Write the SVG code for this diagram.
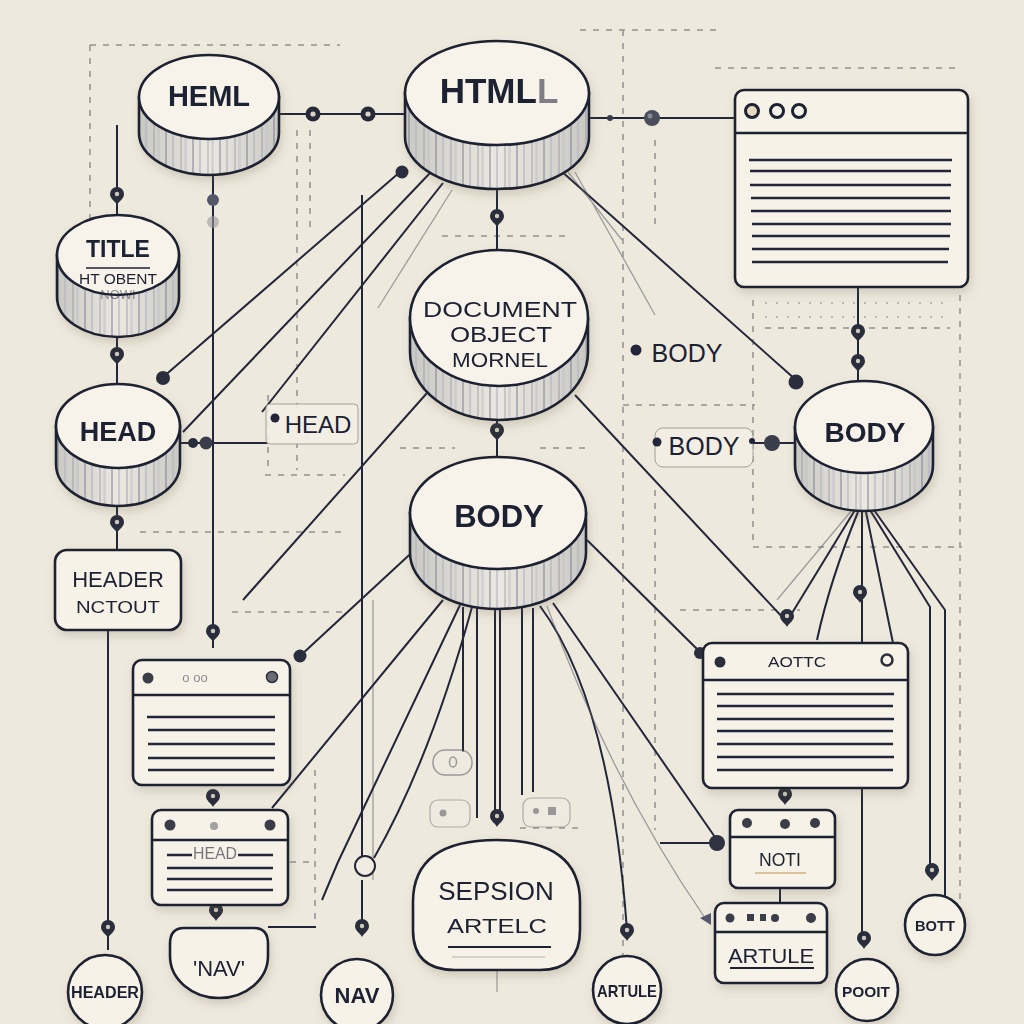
<svg xmlns="http://www.w3.org/2000/svg" xmlns:xlink="http://www.w3.org/1999/xlink" width="1024" height="1024" viewBox="0 0 1024 1024">
<defs>
<style>
.t{font-family:"Liberation Sans",Arial,sans-serif;fill:#1c2033;text-anchor:middle}
.b{font-weight:bold}
.ln{fill:none;stroke:#23263a;stroke-width:2}
.fl{fill:none;stroke:#5a5d68;stroke-width:1.3;opacity:.55}
.dash{fill:none;stroke:#55575f;stroke-width:1.5;stroke-dasharray:6 7;opacity:.6}
.dot{fill:none;stroke:#55575f;stroke-width:1.5;stroke-dasharray:2 9;opacity:.45}
.side{fill:url(#sideg);stroke:none}
.str{fill:url(#stripes);stroke:#1d2131;stroke-width:2.6}
.top{fill:#f7f3ea;stroke:#1d2131;stroke-width:2.6}
.box{fill:#f6f2e8;stroke:#1d2131;stroke-width:2.6}
.bar{stroke:#1d2131;stroke-width:2.6}
.row{stroke:#23263a;stroke-width:2.4}
.lbl{fill:#f3efe5;stroke:#9a9890;stroke-width:1;opacity:.9}
.sh{filter:url(#shadow)}
</style>
<linearGradient id="sideg" x1="0" y1="0" x2="1" y2="0">
<stop offset="0" stop-color="#cac8c3"/><stop offset=".5" stop-color="#ebe8e1"/><stop offset="1" stop-color="#cac8c3"/>
</linearGradient>
<pattern id="stripes" width="27" height="20" patternUnits="userSpaceOnUse">
<line x1="4" y1="0" x2="4" y2="20" stroke="#6f7588" stroke-width="1.2" opacity=".75"/>
<line x1="11" y1="0" x2="11" y2="20" stroke="#b3b5bf" stroke-width="2.2" opacity=".6"/>
<line x1="19" y1="0" x2="19" y2="20" stroke="#858a9c" stroke-width="1" opacity=".7"/>
<line x1="23.5" y1="0" x2="23.5" y2="20" stroke="#c2c2c8" stroke-width="2.5" opacity=".6"/>
</pattern>
<filter id="shadow" x="-20%" y="-20%" width="140%" height="150%">
<feDropShadow dx="2" dy="5" stdDeviation="5" flood-color="#6b6150" flood-opacity=".22"/>
</filter>
<g id="pin"><path d="M0,9 C-2,5 -7,3 -7,-2 A7,7 0 1 1 7,-2 C7,3 2,5 0,9 Z" fill="#2a2d3b"/><circle cy="-2" r="2.2" fill="#cfcabd"/></g>
<g id="ring"><circle r="7.5" fill="#262938"/><circle r="2.6" fill="#d9d4c7"/></g>
</defs>

<rect width="1024" height="1024" fill="#eee9dd"/>

<g id="guides">
<path class="dash" d="M90,45 H340 M90,45 V310 M297,130 V470 M310,130 V230 M268,395 V470 M265,475 H345 M140,532 H345 M232,612 H345 M315,770 V925 M290,862 H315"/>
<path class="dash" d="M400,448 H455 M540,448 H590 M442,236 H565 M580,30 H720 M623,30 V1000 M715,68 H960 M655,140 V230 M655,490 V830 M623,405 H755 M753,300 V547 M680,610 H800 M753,547 H962 M960,295 V900 M765,328 H950 M520,828 H585"/>
<path class="dot" d="M765,303 H950 M765,317 H950"/>
</g>

<g id="connectors">
<path class="ln" d="M280,114 H405"/>
<path class="ln" d="M590,118 H735"/>
<path class="ln" d="M497,190 V250"/>
<path class="ln" d="M497,420 V457"/>
<path class="ln" d="M213,175 V648"/>
<path class="ln" d="M117,125 V215"/>
<path class="ln" d="M117,337 V384"/>
<path class="ln" d="M117,506 V550"/>
<path class="ln" d="M108,630 V950"/>
<path class="ln" d="M400,172 L162,378"/>
<path class="ln" d="M430,173 L183,432"/>
<path class="ln" d="M443,183 L262,412"/>
<path class="fl" d="M452,190 L378,308"/>
<path class="ln" d="M180,443 H268"/>
<path class="ln" d="M362,195 V860"/>
<path class="fl" d="M373,600 V880"/>
<path class="ln" d="M427,393 L243,600"/>
<path class="ln" d="M420,545 L300,656"/>
<path class="ln" d="M443,600 L272,808"/>
<path class="ln" d="M460,605 L338,862 L322,900"/>
<path class="ln" d="M472,607 Q430,760 374,858"/>
<path class="ln" d="M463,607 V752 M477,608 V818 M495,608 V815 M500,608 V815 M522,608 V795 M533,608 V792"/>
<path class="ln" d="M362,880 V925"/>
<path class="ln" d="M540,606 Q610,700 627,930"/>
<path class="ln" d="M553,603 L717,840"/>
<path class="fl" d="M547,606 Q610,780 705,918"/>
<path class="ln" d="M587,540 L700,652"/>
<path class="ln" d="M575,395 L785,620"/>
<path class="ln" d="M560,170 L796,380"/>
<path class="fl" d="M568,172 L622,240 M575,172 L655,315"/>
<path class="ln" d="M858,287 V381"/>
<path class="ln" d="M752,443 H795"/>
<path class="ln" d="M660,843 H717"/>
<path class="fl" d="M852,510 L777,600"/>
<path class="ln" d="M855,510 L789,618"/>
<path class="ln" d="M858,512 Q830,580 817,640"/>
<path class="ln" d="M862,512 V940"/>
<path class="ln" d="M866,512 L893,643"/>
<path class="ln" d="M870,510 L930,607 V868"/>
<path class="ln" d="M874,510 L945,610 V900"/>
<path class="ln" d="M780,888 V905"/>
<path class="ln" d="M316,927 H268"/>
<path class="fl" d="M497,970 V992"/>
<circle cx="365" cy="866" r="10" fill="#f1ece1" stroke="#23263a" stroke-width="2"/>
<use href="#ring" x="313" y="114"/>
<use href="#ring" x="368" y="114"/>
<circle cx="610" cy="118" r="3" fill="#3a3d4a"/>
<circle cx="652" cy="118" r="8" fill="#4a4d5a"/><circle cx="650" cy="116" r="2.5" fill="#8a8c95"/>
<use href="#pin" x="497" y="218"/>
<use href="#pin" x="497" y="432"/>
<circle cx="213" cy="200" r="6" fill="#55586a"/>
<circle cx="213" cy="222" r="6" fill="#9a9aa0" opacity=".6"/>
<use href="#pin" x="213" y="633"/>
<use href="#pin" x="117" y="196"/>
<use href="#pin" x="117" y="356"/>
<use href="#pin" x="117" y="524"/>
<use href="#pin" x="108" y="929"/>
<circle cx="402" cy="172" r="6.5" fill="#2a2d3b"/>
<circle cx="163" cy="378" r="7" fill="#2a2d3b"/>
<circle cx="193" cy="443" r="5" fill="#2a2d3b"/>
<circle cx="206" cy="443" r="6.5" fill="#3a3d4a"/>
<use href="#pin" x="213" y="798"/>
<use href="#pin" x="216" y="912"/>
<use href="#pin" x="362" y="928"/>
<use href="#pin" x="497" y="818"/>
<use href="#pin" x="627" y="932"/>
<circle cx="300" cy="656" r="6.5" fill="#2a2d3b"/>
<use href="#pin" x="858" y="333"/>
<use href="#pin" x="858" y="363"/>
<circle cx="796" cy="382" r="7.5" fill="#2a2d3b"/>
<circle cx="772" cy="443" r="8" fill="#3a3d4a"/>
<use href="#pin" x="787" y="618"/>
<use href="#pin" x="860" y="594"/>
<circle cx="700" cy="653" r="6" fill="#2a2d3b"/>
<use href="#pin" x="785" y="796"/>
<circle cx="717" cy="843" r="8" fill="#2f3240"/>
<use href="#pin" x="864" y="940"/>
<use href="#pin" x="932" y="872"/>
<path d="M700,918 L711,913 L711,925 Z" fill="#55586a"/>
</g>

<g id="faint-pills" opacity=".55">
<rect x="433" y="750" width="39" height="25" rx="12" fill="#f1ece1" stroke="#55575f" stroke-width="1.5"/>
<ellipse cx="453" cy="762" rx="3.5" ry="5" fill="none" stroke="#55575f" stroke-width="1.5"/>
<rect x="430" y="800" width="40" height="27" rx="8" fill="#f1ece1" stroke="#77787f" stroke-width="1.2"/>
<circle cx="443" cy="813" r="3.5" fill="#55575f"/>
<rect x="523" y="798" width="47" height="29" rx="8" fill="#f1ece1" stroke="#77787f" stroke-width="1.2"/>
<circle cx="536" cy="811" r="3" fill="#55575f"/><rect x="548" y="807" width="8" height="8" fill="#55575f"/>
</g>

<g id="n-heml" class="sh">
<path class="side" d="M139,97 V133 A70,42 0 0 0 279,133 V97 Z"/>
<path class="str" d="M139,97 V133 A70,42 0 0 0 279,133 V97 Z"/>
<ellipse class="top" cx="209" cy="97" rx="70" ry="42"/>
<text class="t b" x="209" y="106" font-size="29">HEML</text>
</g>

<g id="n-htmll" class="sh">
<path class="side" d="M405,93 V137 A92,52 0 0 0 589,137 V93 Z"/>
<path class="str" d="M405,93 V137 A92,52 0 0 0 589,137 V93 Z"/>
<ellipse class="top" cx="497" cy="93" rx="92" ry="52"/>
<text class="t b" x="499" y="103" font-size="35">HTML<tspan opacity=".55">L</tspan></text>
</g>

<g id="n-title" class="sh">
<path class="side" d="M57,255 V297 A61,40 0 0 0 179,297 V255 Z"/>
<path class="str" d="M57,255 V297 A61,40 0 0 0 179,297 V255 Z"/>
<ellipse class="top" cx="118" cy="255" rx="61" ry="40"/>
<text class="t b" x="118" y="257" font-size="23">TITLE</text>
<line x1="86" y1="268" x2="150" y2="268" stroke="#1c2033" stroke-width="1.6"/>
<text class="t" x="118" y="284" font-size="15" textLength="78" lengthAdjust="spacingAndGlyphs">HT OBENT</text>
<text class="t" x="118" y="299" font-size="13" opacity=".5">NOWI</text>
</g>

<g id="n-head" class="sh">
<path class="side" d="M56,426 V464 A62,42 0 0 0 180,464 V426 Z"/>
<path class="str" d="M56,426 V464 A62,42 0 0 0 180,464 V426 Z"/>
<ellipse class="top" cx="118" cy="426" rx="62" ry="42"/>
<text class="t b" x="118" y="441" font-size="27">HEAD</text>
</g>

<g id="n-header" class="sh">
<rect class="box" x="55" y="550" width="126" height="80" rx="12"/>
<text class="t" x="118" y="587" font-size="22">HEADER</text>
<text class="t" x="118" y="613" font-size="16" textLength="84" lengthAdjust="spacingAndGlyphs" font-family="Liberation Serif">NCTOUT</text>
</g>

<g id="n-dom" class="sh">
<path class="side" d="M410,318 V352 A89,68 0 0 0 588,352 V318 Z"/>
<path class="str" d="M410,318 V352 A89,68 0 0 0 588,352 V318 Z"/>
<ellipse class="top" cx="499" cy="318" rx="89" ry="68"/>
<text class="t" x="500" y="317" font-size="22" textLength="154" lengthAdjust="spacingAndGlyphs">DOCUMENT</text>
<text class="t" x="501" y="342" font-size="22" textLength="102" lengthAdjust="spacingAndGlyphs">OBJECT</text>
<text class="t" x="500" y="367" font-size="20" textLength="96" lengthAdjust="spacingAndGlyphs">MORNEL</text>
</g>

<g id="n-body-center" class="sh">
<path class="side" d="M410,513 V553 A88,56 0 0 0 586,553 V513 Z"/>
<path class="str" d="M410,513 V553 A88,56 0 0 0 586,553 V513 Z"/>
<ellipse class="top" cx="498" cy="513" rx="88" ry="56"/>
<text class="t b" x="499" y="527" font-size="31">BODY</text>
</g>

<g id="n-body-right" class="sh">
<path class="side" d="M795,427 V465 A69,46 0 0 0 933,465 V427 Z"/>
<path class="str" d="M795,427 V465 A69,46 0 0 0 933,465 V427 Z"/>
<ellipse class="top" cx="864" cy="427" rx="69" ry="46"/>
<text class="t b" x="865" y="442" font-size="28">BODY</text>
</g>

<g id="lbl-head">
<rect class="lbl" x="266" y="404" width="92" height="40" rx="4" opacity=".5"/>
<circle cx="275" cy="418" r="4.5" fill="#23263a"/>
<text class="t" x="318" y="433" font-size="24">HEAD</text>
</g>

<g id="lbl-body-1">
<circle cx="636" cy="350" r="5.5" fill="#23263a"/>
<text class="t" x="687" y="362" font-size="25">BODY</text>
</g>

<g id="lbl-body-2">
<rect class="lbl" x="655" y="428" width="98" height="39" rx="8"/>
<circle cx="657" cy="442" r="4.5" fill="#23263a"/>
<text class="t" x="704" y="455" font-size="25">BODY</text>
<circle cx="752" cy="441" r="3" fill="#23263a"/>
</g>

<g id="n-window-top" class="sh">
<rect class="box" x="735" y="90" width="233" height="197" rx="9"/>
<line class="bar" x1="735" y1="133" x2="968" y2="133"/>
<circle cx="752" cy="111" r="6.5" fill="#e7d9c1" stroke="#1d2131" stroke-width="3"/>
<circle cx="777" cy="111" r="6.5" fill="#f6f2e8" stroke="#1d2131" stroke-width="3"/>
<circle cx="799" cy="111" r="6.5" fill="#f6f2e8" stroke="#1d2131" stroke-width="3"/>
<path class="row" d="M749,160 H952 M750,171 H951 M750,185 H951 M751,198 H950 M751,211 H951 M752,224 H951 M752,236 H950 M752,249 H949 M752,262 H948"/>
</g>

<g id="n-window-1" class="sh">
<rect class="box" x="133" y="660" width="157" height="125" rx="9"/>
<line class="bar" x1="133" y1="695" x2="290" y2="695"/>
<circle cx="148" cy="678" r="5.5" fill="#3a3d4a"/>
<circle cx="272" cy="677" r="5.5" fill="#6a6c75" stroke="#2a2d3b" stroke-width="1.5"/>
<text class="t" x="195" y="682" font-size="13" opacity=".5">o oo</text>
<path class="row" d="M147,717 H275 M148,730 H275 M148,744 H275 M148,758 H275 M148,770 H274"/>
</g>

<g id="n-window-2" class="sh">
<rect class="box" x="152" y="810" width="136" height="95" rx="9"/>
<line class="bar" x1="152" y1="840" x2="288" y2="840"/>
<circle cx="170" cy="825" r="5.5" fill="#3a3d4a"/>
<circle cx="270" cy="825" r="5.5" fill="#3a3d4a"/>
<circle cx="214" cy="826" r="4" fill="#6a6c75" opacity=".6"/>
<text class="t" x="215" y="859" font-size="17" opacity=".6" textLength="44" lengthAdjust="spacingAndGlyphs">HEAD</text>
<path class="row" d="M167,855 H192 M238,855 H273 M167,868 H273 M167,879 H272 M167,890 H273"/>
</g>

<g id="n-nav-q" class="sh">
<path class="box" d="M184,928 H254 Q268,928 268,944 V956 A49,42 0 0 1 170,956 V944 Q170,928 184,928 Z"/>
<text class="t" x="219" y="976" font-size="22">'NAV'</text>
</g>

<g id="n-sepsion" class="sh">
<path class="box" d="M413,902 Q413,840 497,840 Q580,840 580,902 V930 Q580,970 540,970 H455 Q413,970 413,930 Z"/>
<text class="t" x="496" y="900" font-size="26">SEPSION</text>
<text class="t" x="497" y="933" font-size="21" textLength="100" lengthAdjust="spacingAndGlyphs">ARTELC</text>
<line x1="448" y1="947" x2="551" y2="947" stroke="#1c2033" stroke-width="2"/>
<line x1="452" y1="957" x2="545" y2="957" stroke="#8a8a90" stroke-width="1.2" opacity=".6"/>
</g>

<g id="n-aottc" class="sh">
<rect class="box" x="703" y="643" width="205" height="145" rx="9"/>
<line class="bar" x1="703" y1="680" x2="908" y2="680"/>
<circle cx="720" cy="662" r="5.5" fill="#2a2d3b"/>
<circle cx="887" cy="660" r="5.5" fill="#f6f2e8" stroke="#2a2d3b" stroke-width="2.5"/>
<text class="t" x="797" y="667" font-size="14" textLength="58" lengthAdjust="spacingAndGlyphs">AOTTC</text>
<path class="row" d="M717,694 H894 M717,706 H893 M717,719 H894 M717,731 H893 M717,744 H893 M717,757 H894 M717,770 H893"/>
</g>

<g id="n-noti" class="sh">
<rect class="box" x="730" y="810" width="105" height="78" rx="8"/>
<line class="bar" x1="730" y1="837" x2="835" y2="837"/>
<circle cx="747" cy="823" r="5" fill="#3a3d4a"/>
<circle cx="785" cy="824" r="5" fill="#3a3d4a"/>
<circle cx="815" cy="823" r="5" fill="#3a3d4a"/>
<text class="t" x="780" y="866" font-size="18" textLength="42" lengthAdjust="spacingAndGlyphs">NOTI</text>
<line x1="755" y1="873" x2="806" y2="873" stroke="#c8a06a" stroke-width="1.5" opacity=".8"/>
</g>

<g id="n-artule-win" class="sh">
<rect class="box" x="715" y="903" width="112" height="80" rx="9"/>
<line class="bar" x1="715" y1="932" x2="827" y2="932"/>
<circle cx="730" cy="918" r="4.5" fill="#3a3d4a"/>
<rect x="747" y="914" width="7" height="7" fill="#3a3d4a"/>
<rect x="760" y="914" width="6" height="7" fill="#3a3d4a"/>
<circle cx="775" cy="918" r="4" fill="#3a3d4a"/>
<circle cx="811" cy="918" r="5" fill="#3a3d4a"/>
<text class="t" x="771" y="963" font-size="21" textLength="86" lengthAdjust="spacingAndGlyphs">ARTULE</text>
<line x1="730" y1="968" x2="814" y2="968" stroke="#1c2033" stroke-width="2"/>
</g>

<g id="n-header-c" class="sh">
<circle class="box" cx="105" cy="992" r="37"/>
<text class="t b" x="105" y="998" font-size="16" textLength="68" lengthAdjust="spacingAndGlyphs">HEADER</text>
</g>

<g id="n-nav" class="sh">
<circle class="box" cx="357" cy="995" r="36"/>
<text class="t b" x="357" y="1003" font-size="22">NAV</text>
</g>

<g id="n-artule" class="sh">
<circle class="box" cx="627" cy="990" r="34"/>
<text class="t b" x="627" y="997" font-size="17" textLength="60" lengthAdjust="spacingAndGlyphs">ARTULE</text>
</g>

<g id="n-pooit" class="sh">
<circle class="box" cx="867" cy="990" r="31"/>
<text class="t b" x="866" y="997" font-size="15" textLength="48" lengthAdjust="spacingAndGlyphs">POOIT</text>
</g>

<g id="n-bott" class="sh">
<circle class="box" cx="935" cy="925" r="30"/>
<text class="t b" x="935" y="931" font-size="15" textLength="40" lengthAdjust="spacingAndGlyphs">BOTT</text>
</g>
</svg>
